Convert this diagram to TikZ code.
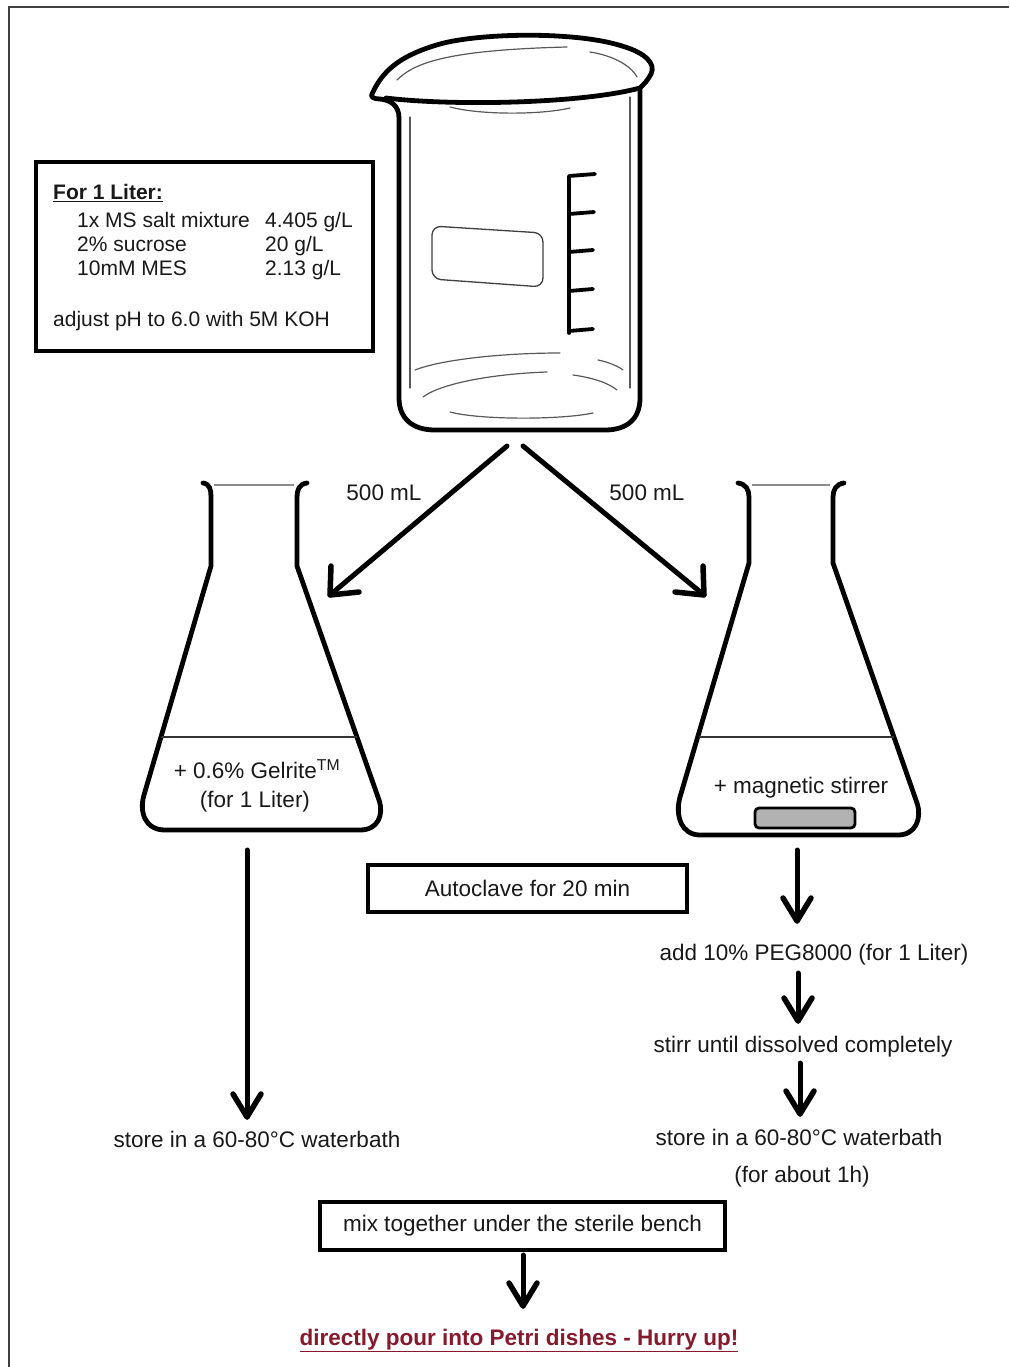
\documentclass[tikz,border=0pt]{standalone}
\usepackage{fontspec}
\setmainfont{Liberation Sans}
\usetikzlibrary{calc}
\definecolor{ink}{RGB}{25,25,25}
\definecolor{hurry}{RGB}{135,25,45}
\begin{document}
\begin{tikzpicture}[x=1pt,y=-1pt,
  glass/.style={line width=4.8pt, line join=round, line cap=round, draw=black},
  fine/.style={line width=1.2pt, draw=black!65, line cap=round},
  txt/.style={inner sep=0pt, text=ink, font=\fontsize{22.5}{27}\selectfont},
  rtxt/.style={inner sep=0pt, text=ink, font=\fontsize{21}{25}\selectfont, anchor=base west},
  stepbox/.style={draw=black, line width=3.8pt, inner sep=0pt, text=ink, font=\fontsize{22.5}{27}\selectfont},
  shaft/.style={line width=5pt, draw=black, line cap=round},
  barb/.style={line width=5.5pt, draw=black, line cap=round, line join=round},
]
% canvas and page frame
\fill[white] (0,0) rectangle (1009,1367);
\useasboundingbox (0,0) rectangle (1009,1367);
\draw[line width=2pt, black!75] (9,1367) -- (9,7.5) -- (1009,7.5);

% ---------- recipe box ----------
\node[draw=black, line width=3.8pt, minimum width=337pt, minimum height=189pt,
      inner sep=0pt, anchor=north west] (recipe) at (34,160) {};
\node[rtxt, font=\fontsize{21}{25}\selectfont\bfseries] (rtitle) at (53,200) {\underline{For 1 Liter:}};
\node[rtxt] (r1a) at (77,227) {1x MS salt mixture};
\node[rtxt] (r1b) at (265,227) {4.405 g/L};
\node[rtxt] (r2a) at (77,251) {2\% sucrose};
\node[rtxt] (r2b) at (265,251) {20 g/L};
\node[rtxt] (r3a) at (77,275) {10mM MES};
\node[rtxt] (r3b) at (265,275) {2.13 g/L};
\node[rtxt] (r4) at (53,326) {adjust pH to 6.0 with 5M KOH};

% ---------- beaker ----------
\draw[glass] (372,94) .. controls (382,72) and (398,56) .. (440,44)
  .. controls (480,33) and (575,31) .. (622,46)
  .. controls (646,53) and (656,64) .. (651,74)
  .. controls (648,80) and (644,84) .. (640,88)
  -- (640,398) .. controls (640,418) and (628,430) .. (605,430)
  -- (435,430) .. controls (412,430) and (399,418) .. (399,398)
  -- (399,118) .. controls (399,105) and (390,100) .. (380,99)
  .. controls (374,99) and (370,97) .. (372,94) -- cycle;
\draw[glass] (386,98) .. controls (450,106) and (580,104) .. (640,88);
% rim and wall reflections
\draw[fine] (397,80) .. controls (415,62) and (450,50) .. (567,47);
\draw[fine] (590,52) .. controls (610,55) and (630,64) .. (637,77);
\draw[fine] (450,107) .. controls (480,115) and (540,115) .. (570,108);
\draw[fine] (410,117) -- (410,388);
\draw[fine] (630,97) -- (630,388);
% bottom reflections
\draw[fine] (415,370) .. controls (440,360) and (500,353) .. (560,353);
\draw[fine] (598,360) .. controls (608,362) and (618,366) .. (623,370);
\draw[fine] (423,397) .. controls (440,384) and (490,374) .. (547,372);
\draw[fine] (573,375) .. controls (595,378) and (610,384) .. (617,390);
\draw[fine] (450,412) .. controls (480,420) and (560,420) .. (593,413);
% label field
\draw[line width=1.3pt, draw=black!75, rounded corners=9pt]
  (432,226) -- (543,233) -- (543,287) -- (432,279) -- cycle;
% graduation
\draw[line width=3.8pt, line cap=round] (569,177) -- (569,333);
\foreach \gy/\gx in {176/595, 214/594, 252/593, 291/593, 331/593}
  \draw[line width=3.8pt, line cap=round] (569,\gy) -- (\gx,\gy-2);

% ---------- left flask ----------
\draw[glass] (203,483) .. controls (210,484) and (211,490) .. (211,497)
  -- (211,566) -- (144,795) .. controls (139,812) and (145,830) .. (165,830)
  -- (360,830) .. controls (378,830) and (384,815) .. (379,800)
  -- (297,566) -- (297,497) .. controls (297,490) and (299,484) .. (307,483);
\draw[line width=1.2pt, black!45] (214,485) -- (294,485);
\draw[line width=1.3pt, black!80] (161,737) -- (357,737);
\node[txt, anchor=base] (gel) at (257,778) {+ 0.6\% Gelrite\textsuperscript{TM}};
\node[txt, anchor=base] (gelnote) at (255,807) {(for 1 Liter)};

% ---------- right flask ----------
\draw[glass] (738,483) .. controls (746,484) and (749,490) .. (749,497)
  -- (749,563) -- (680,797) .. controls (675,815) and (681,835) .. (700,835)
  -- (898,835) .. controls (916,835) and (922,818) .. (917,803)
  -- (833,563) -- (833,497) .. controls (833,490) and (836,484) .. (844,483);
\draw[line width=1.2pt, black!45] (752,485) -- (830,485);
\draw[line width=1.3pt, black!80] (699,737) -- (894,737);
\node[txt, anchor=base] (mag) at (801,793) {+ magnetic stirrer};
\draw[line width=2.8pt, fill=black!30, rounded corners=4pt] (755,808) rectangle (855,828);

% ---------- volume labels and pouring arrows ----------
\node[txt] (vol-l) at (384,493) {500 mL};
\node[txt] (vol-r) at (647,493) {500 mL};
\coordinate (bk-l) at (507,446);
\coordinate (bk-r) at (523,446);
\coordinate (lf-in) at (330,595);
\coordinate (rf-in) at (704,595);
\draw[shaft] (bk-l) -- (lf-in);
\draw[barb] ($(lf-in)+(1,-29)$) -- (lf-in) -- ($(lf-in)+(29,-3)$);
\draw[shaft] (bk-r) -- (rf-in);
\draw[barb] ($(rf-in)+(-1,-29)$) -- (rf-in) -- ($(rf-in)+(-29,-3)$);

% ---------- steps ----------
\node[stepbox, minimum width=319pt, minimum height=47pt] (auto) at (527.5,888.5) {Autoclave for 20 min};
\node[txt, anchor=base] (storeL) at (257,1147) {store in a 60-80°C waterbath};
\node[txt, anchor=base] (peg) at (814,960) {add 10\% PEG8000 (for 1 Liter)};
\node[txt, anchor=base] (stirr) at (803,1052) {stirr until dissolved completely};
\node[txt, anchor=base] (storeR) at (799,1145) {store in a 60-80°C waterbath};
\node[txt, anchor=base] (hour) at (802,1182) {(for about 1h)};
\node[stepbox, minimum width=405pt, minimum height=48pt] (mix) at (522.5,1226) {mix together under the sterile bench};
\node[txt, anchor=base, text=hurry, font=\fontsize{22.5}{27}\selectfont\bfseries] (pour) at (519,1345)
  {\underline{directly pour into Petri dishes - Hurry up!}};

% arrow end points and downward arrows
\coordinate (lf-out) at (247,850);
\coordinate (storeL-in) at (247,1117);
\coordinate (rf-out) at (797,850);
\coordinate (peg-in) at (797,921);
\coordinate (peg-out) at (798,973);
\coordinate (stirr-in) at (798,1021);
\coordinate (stirr-out) at (800,1063);
\coordinate (storeR-in) at (800,1114);
\coordinate (mix-out) at (523,1255);
\coordinate (pour-in) at (523,1306);
\foreach \a/\b in {lf-out/storeL-in, rf-out/peg-in, peg-out/stirr-in,
                   stirr-out/storeR-in, mix-out/pour-in} {
  \draw[shaft] (\a) -- (\b);
  \draw[barb] ($(\b)+(-14,-23)$) -- (\b) -- ($(\b)+(14,-23)$);
}
\end{tikzpicture}
\end{document}
